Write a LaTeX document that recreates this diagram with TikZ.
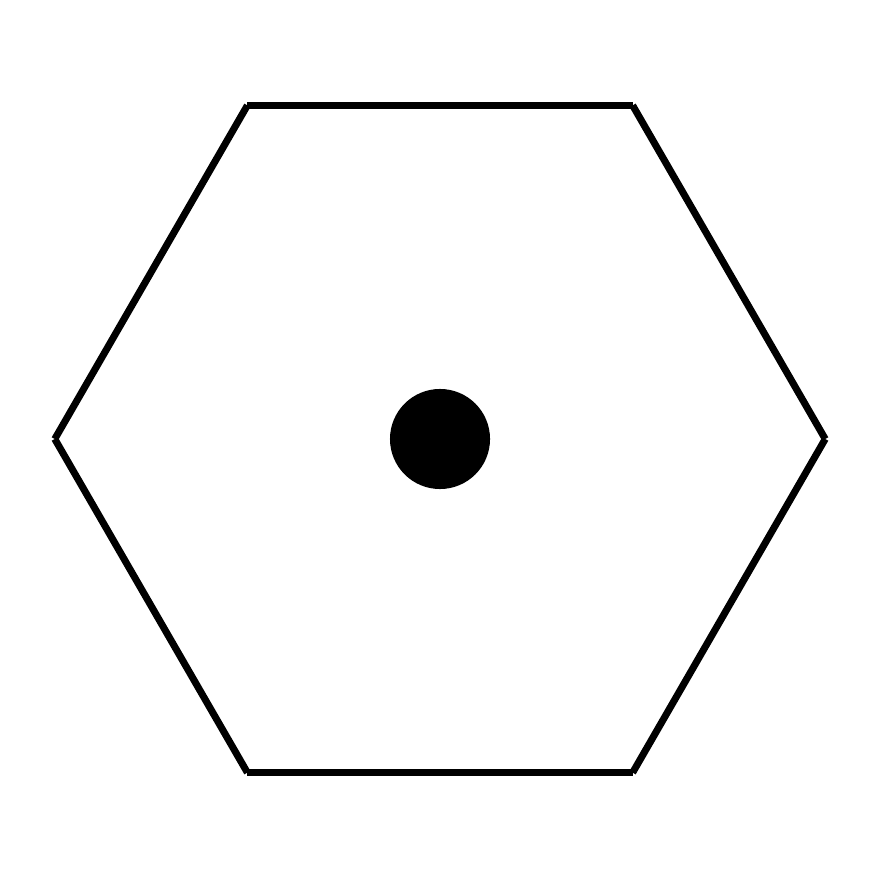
\documentclass[tikz,border=0pt]{standalone}
\usepackage{tikz}
\tikzset{hexline/.style={line width=2pt, black, line cap=butt}}

\begin{document}
\begin{tikzpicture}[x=0.01cm, y=-0.01cm]
  \useasboundingbox (0,0) rectangle (880,880);
  \coordinate (ctr) at (440,439);
  % hexagon corners
  \foreach \a in {0,60,...,300} {
    \coordinate (v\a) at ([shift={(\a:3.85cm)}]ctr);
  }
  % sides drawn one by one
  \foreach \a/\b in {0/60,60/120,120/180,180/240,240/300,300/0} {
    \draw[hexline] (v\a) -- (v\b);
  }
  \fill[black] (ctr) circle (0.5cm);
\end{tikzpicture}
\end{document}
